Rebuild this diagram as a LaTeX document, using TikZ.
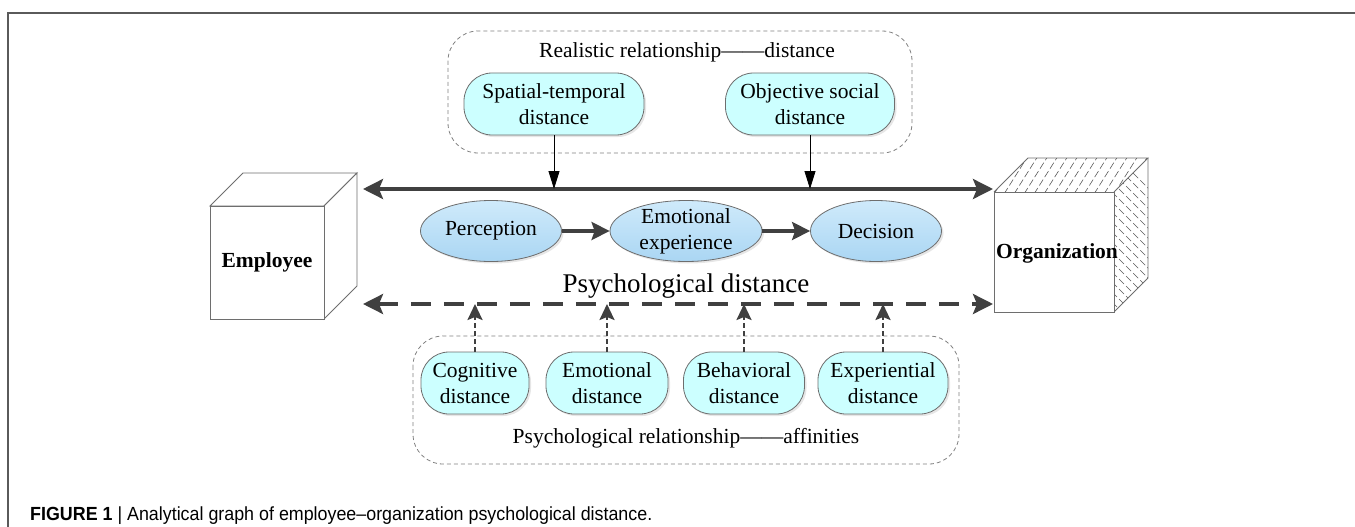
\documentclass[tikz,border=0pt]{standalone}
\usepackage{fontspec}
\usepackage{graphicx}
\setmainfont{Liberation Serif}
\setsansfont{Liberation Sans}
\usetikzlibrary{arrows.meta,shapes.geometric,shadows}
\definecolor{arrowgray}{HTML}{404040}
\definecolor{elltop}{HTML}{CFEAFB}
\definecolor{ellbot}{HTML}{AAD6F3}
\definecolor{boxfill}{HTML}{CCFFFF}
\definecolor{edgegray}{HTML}{6E6E6E}
\definecolor{framegray}{HTML}{5A5A5A}
\begin{document}
\begin{tikzpicture}[x=1pt,y=-1pt,
  txt/.style={font=\fontsize{21.5}{26}\selectfont, align=center, inner sep=0pt},
  ellnode/.style={ellipse, draw=edgegray, line width=0.8pt, top color=elltop, bottom color=ellbot, inner sep=0pt,
    minimum height=61pt, drop shadow={shadow xshift=2pt, shadow yshift=-2pt, opacity=0.2}},
  rbox/.style={rectangle, rounded corners=28pt, draw=edgegray, line width=0.8pt, fill=boxfill, txt,
    minimum height=62pt, drop shadow={shadow xshift=2pt, shadow yshift=-2pt, opacity=0.2}},
  groupbox/.style={draw=gray, dash pattern=on 4pt off 3pt, rounded corners=30pt, line width=0.8pt},
  cubeline/.style={draw=edgegray, line width=0.9pt},
  hatch/.style={draw=black!65, line width=0.6pt, dash pattern=on 7pt off 3pt},
  solidarrow/.style={draw=arrowgray, line width=3.5pt,
    {Stealth[length=20pt,width=20pt,inset=4pt]}-{Stealth[length=20pt,width=20pt,inset=4pt]}},
  dasharrow/.style={draw=arrowgray, line width=3.5pt, dash pattern=on 20pt off 13pt,
    {Stealth[length=20pt,width=20pt,inset=4pt]}-{Stealth[length=20pt,width=20pt,inset=4pt]}},
  downarrow/.style={draw=black, line width=0.8pt, -{Triangle[length=18pt,width=11pt]}},
  uparrow/.style={draw=arrowgray, line width=2.5pt, dash pattern=on 5pt off 3pt,
    -{Stealth[length=16pt,width=15pt,inset=3pt]}},
  flowarrow/.style={draw=arrowgray, line width=3.5pt, -{Stealth[length=18pt,width=18pt,inset=3pt]}}
]
\useasboundingbox (0,0) rectangle (1355,527);

% frame
\draw[framegray, line width=1.5pt] (8,527) -- (8,13) -- (1355,13);

% group boxes
\draw[groupbox] (448,31) rectangle (912,153);
\draw[groupbox] (413,336) rectangle (959,464);
\node[txt] (realtitle) at (687,52) {Realistic relationship——distance};
\node[txt] (psytitle) at (686,438) {Psychological relationship——affinities};

% Employee cube
\draw[cubeline, fill=white] (210,206) -- (243,173) -- (357,173) -- (324,206) -- cycle;
\draw[cubeline, fill=white] (324,206) -- (357,173) -- (357,286) -- (324,319) -- cycle;
\node[cubeline, rectangle, fill=white, minimum width=114pt, minimum height=113pt, inner sep=0pt,
  font=\fontsize{21.5}{26}\selectfont\bfseries] (emp) at (267,262.5) {Employee};

% Organization cube
\coordinate (o1) at (994,192);
\coordinate (o2) at (1114,192);
\coordinate (o3) at (1148,158);
\coordinate (o4) at (1028,158);
\coordinate (o5) at (1148,278);
\coordinate (o6) at (1114,312);
\begin{scope}
  \clip (o1) -- (o2) -- (o3) -- (o4) -- cycle;
  \foreach \i in {-40,-30,...,200} {
    \draw[hatch] (994+\i,194) -- (1018+\i,156);
  }
\end{scope}
\begin{scope}
  \clip (o2) -- (o3) -- (o5) -- (o6) -- cycle;
  \foreach \i in {-40,-30,...,160} {
    \draw[hatch] (1112,192+\i) -- (1150,230+\i);
  }
\end{scope}
\draw[cubeline] (o1) -- (o4) -- (o3) -- (o2);
\draw[cubeline] (o3) -- (o5) -- (o6);
\node[cubeline, rectangle, fill=white, minimum width=120pt, minimum height=120pt, inner sep=0pt] (org) at (1054,252) {};
\node[font=\fontsize{21.5}{26}\selectfont\bfseries, inner sep=0pt] (orglabel) at (1057,253) {Organization};

% top boxes
\node[rbox, minimum width=180pt] (st) at (554,104) {Spatial-temporal\\distance};
\node[rbox, minimum width=169pt] (os) at (810,104) {Objective social\\distance};

% main arrows
\coordinate (tl) at (363,189);
\coordinate (tr) at (993,189);
\coordinate (bl) at (363,304);
\coordinate (br) at (993,304);
\draw[solidarrow] (tl) -- (tr);
\draw[dasharrow] (bl) -- (br);

\draw[downarrow] (st.south) -- (st.south |- tl);
\draw[downarrow] (os.south) -- (os.south |- tl);

% ellipses
\node[ellnode, minimum width=141pt] (per) at (491,231) {};
\node[ellnode, minimum width=152pt] (emo) at (686,231) {};
\node[ellnode, minimum width=131pt] (dec) at (876,231) {};
\node[txt] (pertxt) at (per) {Perception};
\node[txt] (emotxt) at (emo) {Emotional\\experience};
\node[txt] (dectxt) at (dec) {Decision};
\draw[flowarrow] (per.east) -- (emo.west);
\draw[flowarrow] (emo.east) -- (dec.west);

\node[font=\fontsize{27}{32}\selectfont, inner sep=0pt] (psy) at (686,286) {Psychological distance};

% bottom boxes
\node[rbox, minimum width=108pt] (cog) at (475,383) {Cognitive\\distance};
\node[rbox, minimum width=122pt] (emd) at (607,383) {Emotional\\distance};
\node[rbox, minimum width=121pt] (beh) at (744,383) {Behavioral\\distance};
\node[rbox, minimum width=130pt] (exp) at (883,383) {Experiential\\distance};

\draw[uparrow] (cog.north) -- (cog.north |- bl);
\draw[uparrow] (emd.north) -- (emd.north |- bl);
\draw[uparrow] (beh.north) -- (beh.north |- bl);
\draw[uparrow] (exp.north) -- (exp.north |- bl);

% caption
\node[anchor=west, inner sep=0pt, font=\sffamily\fontsize{19}{22}\selectfont] (cap) at (30,516)
  {\scalebox{0.94}[1]{\textbf{FIGURE 1} | Analytical graph of employee–organization psychological distance.}};
\end{tikzpicture}
\end{document}
